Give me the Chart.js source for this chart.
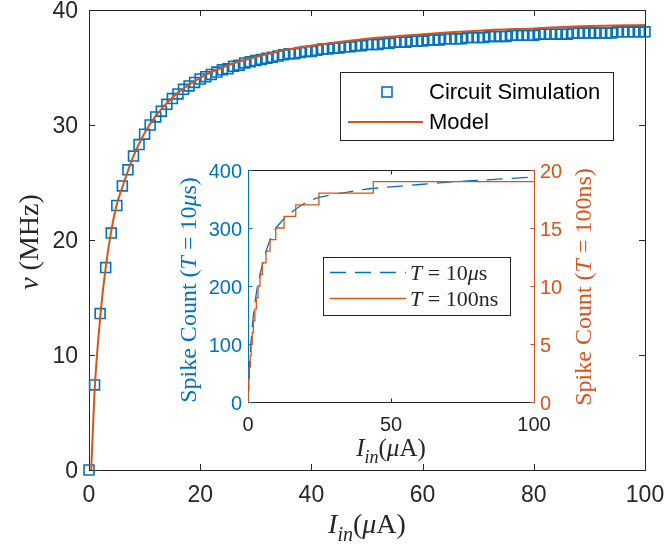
<!DOCTYPE html>
<html>
<head>
<meta charset="utf-8">
<script src="https://cdn.jsdelivr.net/npm/chart.js@4.4.1/dist/chart.umd.min.js"></script>
<style>
  html, body { margin: 0; padding: 0; background: #fff; }
  #wrap { position: relative; width: 666px; height: 548px; }
  #wrap canvas { position: absolute; left: 0; top: 0; }
</style>
</head>
<body>
<div id="wrap">
  <canvas id="mainChart" width="666" height="548"></canvas>
  <canvas id="insetChart" width="666" height="548"></canvas>
</div>
<script>
// main plot: circuit simulation (squares) vs model (line), rate in MHz
const simCurrent = [0,1,2,3,4,5,6,7,8,9,10,11,12,13,14,15,16,17,18,19,20,
  21,22,23,24,25,26,27,28,29,30,31,32,33,34,35,36,37,38,39,40,
  41,42,43,44,45,46,47,48,49,50,51,52,53,54,55,56,57,58,59,60,
  61,62,63,64,65,66,67,68,69,70,71,72,73,74,75,76,77,78,79,80,
  81,82,83,84,85,86,87,88,89,90,91,92,93,94,95,96,97,98,99,100];
const simRate = [0,7.4,13.6,17.6,20.6,23.0,24.7,26.1,27.3,28.3,29.2,
  30.0,30.7,31.2,31.8,32.3,32.7,33.1,33.4,33.7,34.0,
  34.2,34.4,34.6,34.8,34.9,35.1,35.2,35.4,35.5,35.6,
  35.7,35.8,35.9,36.0,36.1,36.2,36.2,36.3,36.4,36.4,
  36.5,36.6,36.6,36.7,36.7,36.8,36.8,36.9,36.9,37.0,
  37.0,37.0,37.1,37.1,37.2,37.2,37.2,37.3,37.3,37.3,
  37.4,37.4,37.4,37.5,37.5,37.5,37.5,37.6,37.6,37.6,
  37.6,37.7,37.7,37.7,37.7,37.8,37.8,37.8,37.8,37.8,
  37.9,37.9,37.9,37.9,37.9,37.9,38.0,38.0,38.0,38.0,
  38.0,38.0,38.0,38.0,38.1,38.1,38.1,38.1,38.1,38.1];
const modelCurrent = [0.4,1,2,3,4,5,6,7,8,10,12,15,20,25,30,35,40,50,60,70,80,90,100];
const modelRate = [0,6.8,13.2,17.6,20.8,23.1,24.6,26.0,27.3,29.3,30.8,32.4,34.1,35.2,35.9,36.5,36.9,37.5,37.9,38.2,38.4,38.6,38.7];

// inset: spike counts for two windows
const longCurrent = [0,0.5,1,1.5,2,3,4,5,6,7,8,9,10,12,14,16,19,22,26,30,35,40,50,60,70,80,90,100];
const longCount = [0,60,100,130,155,190,216,236,255,270,283,293,301,313,322,330,340,348,354,358,362,366,371,375,379,382,385,388];
const shortCurrent = [0,0.1,0.3,0.5,0.8,1.1,1.5,1.9,2.4,2.9,3.5,4.2,5.0,6.3,7.7,9.7,12.6,16.7,24.8,43.8,100];
const shortCount = [0,1,2,3,4,5,6,7,8,9,10,11,12,13,14,15,16,17,18,19,19];

const mainXTicks = [0,20,40,60,80,100];
const mainYTicks = [0,10,20,30,40];

const blue = '#0072BD';
const orange = '#D95319';
const axisGray = '#262626';
const sans = '"Liberation Sans", Arial, sans-serif';
const serif = '"Liberation Serif", "Times New Roman", serif';

function pts(xs, ys) {
  return xs.map((x, i) => ({ x: x, y: ys[i] }));
}

// text made of runs: [text, italic, subscript]
function drawRuns(ctx, runs, x, y, size, color, opts) {
  opts = opts || {};
  ctx.save();
  ctx.translate(x, y);
  if (opts.rotate) ctx.rotate(-Math.PI / 2);
  ctx.fillStyle = color;
  ctx.textBaseline = 'alphabetic';
  ctx.textAlign = 'left';
  const fontOf = r => (r[1] ? 'italic ' : '') + (r[2] ? Math.round(size * 0.72) : size) + 'px ' + serif;
  let total = 0;
  runs.forEach(r => { ctx.font = fontOf(r); total += ctx.measureText(r[0]).width; });
  let cx = opts.left ? 0 : -total / 2;
  runs.forEach(r => {
    ctx.font = fontOf(r);
    ctx.fillText(r[0], cx, r[2] ? size * 0.28 : 0);
    cx += ctx.measureText(r[0]).width;
  });
  ctx.restore();
}

function seg(ctx, x1, y1, x2, y2) {
  ctx.beginPath();
  ctx.moveTo(x1, y1);
  ctx.lineTo(x2, y2);
  ctx.stroke();
}

const currentLabel = [['I', 1], ['in', 1, 1], ['(', 0], ['\u03bc', 1], ['A)', 0]];

const mainDecor = {
  id: 'mainDecor',
  beforeDatasetsDraw(chart) {
    const { ctx, chartArea: a, scales } = chart;
    ctx.save();
    ctx.strokeStyle = axisGray;
    ctx.lineWidth = 1;
    ctx.strokeRect(Math.round(a.left) + 0.5, Math.round(a.top) + 0.5,
      Math.round(a.right) - Math.round(a.left), Math.round(a.bottom) - Math.round(a.top));
    scales.x.ticks.forEach(t => {
      const px = Math.round(scales.x.getPixelForValue(t.value)) + 0.5;
      seg(ctx, px, a.bottom, px, a.bottom - 6);
      seg(ctx, px, a.top, px, a.top + 6);
    });
    scales.y.ticks.forEach(t => {
      const py = Math.round(scales.y.getPixelForValue(t.value)) + 0.5;
      seg(ctx, a.left, py, a.left + 6, py);
      seg(ctx, a.right, py, a.right - 6, py);
    });
    ctx.restore();
  },
  afterDraw(chart) {
    const { ctx, chartArea: a } = chart;
    drawRuns(ctx, currentLabel, (a.left + a.right) / 2, 533, 28, axisGray);
    drawRuns(ctx, [['\u03bd', 1], [' (MHz)', 0]], 38, (a.top + a.bottom) / 2 + 2, 28, axisGray, { rotate: true });

    // legend
    ctx.save();
    ctx.fillStyle = '#fff';
    ctx.fillRect(340, 72, 273, 68);
    ctx.strokeStyle = axisGray;
    ctx.lineWidth = 1;
    ctx.strokeRect(340.5, 72.5, 273, 68);
    ctx.strokeStyle = blue;
    ctx.lineWidth = 1.6;
    ctx.strokeRect(382, 87, 10, 10);
    ctx.strokeStyle = orange;
    ctx.lineWidth = 2;
    seg(ctx, 348, 122, 423, 122);
    ctx.fillStyle = '#000';
    ctx.font = '22px ' + sans;
    ctx.textBaseline = 'middle';
    ctx.fillText('Circuit Simulation', 429, 93);
    ctx.fillText('Model', 429, 123);
    ctx.restore();
  }
};

new Chart(document.getElementById('mainChart'), {
  type: 'line',
  data: {
    datasets: [
      {
        label: 'Model',
        data: pts(modelCurrent, modelRate),
        borderColor: orange,
        borderWidth: 2,
        pointRadius: 0,
        cubicInterpolationMode: 'monotone',
        fill: false
      },
      {
        label: 'Circuit Simulation',
        data: pts(simCurrent, simRate),
        showLine: false,
        pointStyle: 'rect',
        pointRadius: 7,
        pointBorderWidth: 1.6,
        pointBorderColor: blue,
        pointBackgroundColor: 'rgba(0,0,0,0)',
        clip: false
      }
    ]
  },
  options: {
    responsive: false,
    animation: false,
    events: [],
    layout: { padding: { left: 0, right: 21, top: 10, bottom: 0 } },
    plugins: { legend: { display: false }, tooltip: { enabled: false } },
    scales: {
      x: {
        type: 'linear', min: 0, max: 100,
        afterBuildTicks: s => { s.ticks = mainXTicks.map(v => ({ value: v })); },
        ticks: { font: { family: sans, size: 23 }, color: axisGray, padding: 12, maxRotation: 0 },
        grid: { display: false, drawTicks: false },
        border: { display: false },
        afterFit: s => { s.height = 78; s.paddingLeft = 0; s.paddingRight = 0; }
      },
      y: {
        type: 'linear', min: 0, max: 40,
        afterBuildTicks: s => { s.ticks = mainYTicks.map(v => ({ value: v })); },
        ticks: { font: { family: sans, size: 23 }, color: axisGray, padding: 11, labelOffset: 2 },
        grid: { display: false, drawTicks: false },
        border: { display: false },
        afterFit: s => { s.width = 89; s.paddingTop = 0; s.paddingBottom = 0; }
      }
    }
  },
  plugins: [mainDecor]
});

const insetDecor = {
  id: 'insetDecor',
  beforeDatasetsDraw(chart) {
    const { ctx, chartArea: a, scales } = chart;
    const L = Math.round(a.left) + 0.5, R = Math.round(a.right) + 0.5;
    const T = Math.round(a.top) + 0.5, B = Math.round(a.bottom) + 0.5;
    ctx.save();
    ctx.fillStyle = '#fff';
    ctx.fillRect(a.left, a.top, a.width, a.height);
    ctx.lineWidth = 1;
    ctx.strokeStyle = axisGray;
    seg(ctx, L, T, R, T);
    seg(ctx, L, B, R, B);
    scales.x.ticks.forEach(t => {
      const px = Math.round(scales.x.getPixelForValue(t.value)) + 0.5;
      seg(ctx, px, B, px, B - 4);
      seg(ctx, px, T, px, T + 4);
    });
    ctx.strokeStyle = blue;
    seg(ctx, L, T, L, B);
    scales.y.ticks.forEach(t => {
      const py = Math.round(scales.y.getPixelForValue(t.value)) + 0.5;
      seg(ctx, L, py, L + 4, py);
    });
    ctx.strokeStyle = orange;
    seg(ctx, R, T, R, B);
    scales.y2.ticks.forEach(t => {
      const py = Math.round(scales.y2.getPixelForValue(t.value)) + 0.5;
      seg(ctx, R, py, R - 4, py);
    });
    ctx.restore();
  },
  afterDraw(chart) {
    const { ctx, chartArea: a } = chart;
    drawRuns(ctx, currentLabel, (a.left + a.right) / 2, 456, 25, axisGray);
    drawRuns(ctx, [['Spike Count (', 0], ['T', 1], [' = 10', 0], ['\u03bc', 1], ['s)', 0]],
      196, 290, 24, blue, { rotate: true });
    drawRuns(ctx, [['Spike Count (', 0], ['T', 1], [' = 100ns)', 0]],
      591, 287, 24, orange, { rotate: true });

    // legend
    ctx.save();
    ctx.fillStyle = '#fff';
    ctx.fillRect(323, 257, 187, 58);
    ctx.strokeStyle = axisGray;
    ctx.lineWidth = 1;
    ctx.strokeRect(323.5, 257.5, 187, 58);
    ctx.strokeStyle = blue;
    ctx.lineWidth = 1.3;
    ctx.setLineDash([16, 9]);
    seg(ctx, 330, 272.5, 406, 272.5);
    ctx.setLineDash([]);
    ctx.strokeStyle = orange;
    seg(ctx, 330, 298.5, 406, 298.5);
    ctx.restore();
    drawRuns(ctx, [['T', 1], [' = 10', 0], ['\u03bc', 1], ['s', 0]], 410, 280, 22, axisGray, { left: true });
    drawRuns(ctx, [['T', 1], [' = 100ns', 0]], 410, 306, 22, axisGray, { left: true });
  }
};

new Chart(document.getElementById('insetChart'), {
  type: 'line',
  data: {
    datasets: [
      {
        label: 'T = 100ns',
        data: pts(shortCurrent, shortCount),
        yAxisID: 'y2',
        borderColor: orange,
        borderWidth: 1.3,
        pointRadius: 0,
        stepped: 'before',
        fill: false
      },
      {
        label: 'T = 10us',
        data: pts(longCurrent, longCount),
        yAxisID: 'y',
        borderColor: blue,
        borderWidth: 1.3,
        borderDash: [16, 9],
        pointRadius: 0,
        cubicInterpolationMode: 'monotone',
        fill: false
      }
    ]
  },
  options: {
    responsive: false,
    animation: false,
    events: [],
    layout: { padding: { left: 198, right: 82, top: 170, bottom: 96 } },
    plugins: { legend: { display: false }, tooltip: { enabled: false } },
    scales: {
      x: {
        type: 'linear', min: 0, max: 100,
        ticks: { stepSize: 50, font: { family: sans, size: 20 }, color: axisGray, padding: 11, maxRotation: 0 },
        grid: { display: false, drawTicks: false },
        border: { display: false },
        afterFit: s => { s.height = 50; s.paddingLeft = 0; s.paddingRight = 0; }
      },
      y: {
        type: 'linear', position: 'left', min: 0, max: 400,
        ticks: { stepSize: 100, font: { family: sans, size: 20 }, color: blue, padding: 6, labelOffset: 2 },
        grid: { display: false, drawTicks: false },
        border: { display: false },
        afterFit: s => { s.width = 50; s.paddingTop = 0; s.paddingBottom = 0; }
      },
      y2: {
        type: 'linear', position: 'right', min: 0, max: 20,
        ticks: { stepSize: 5, font: { family: sans, size: 20 }, color: orange, padding: 6, labelOffset: 2 },
        grid: { display: false, drawTicks: false },
        border: { display: false },
        afterFit: s => { s.width = 50; s.paddingTop = 0; s.paddingBottom = 0; }
      }
    }
  },
  plugins: [insetDecor]
});
</script>
</body>
</html>
